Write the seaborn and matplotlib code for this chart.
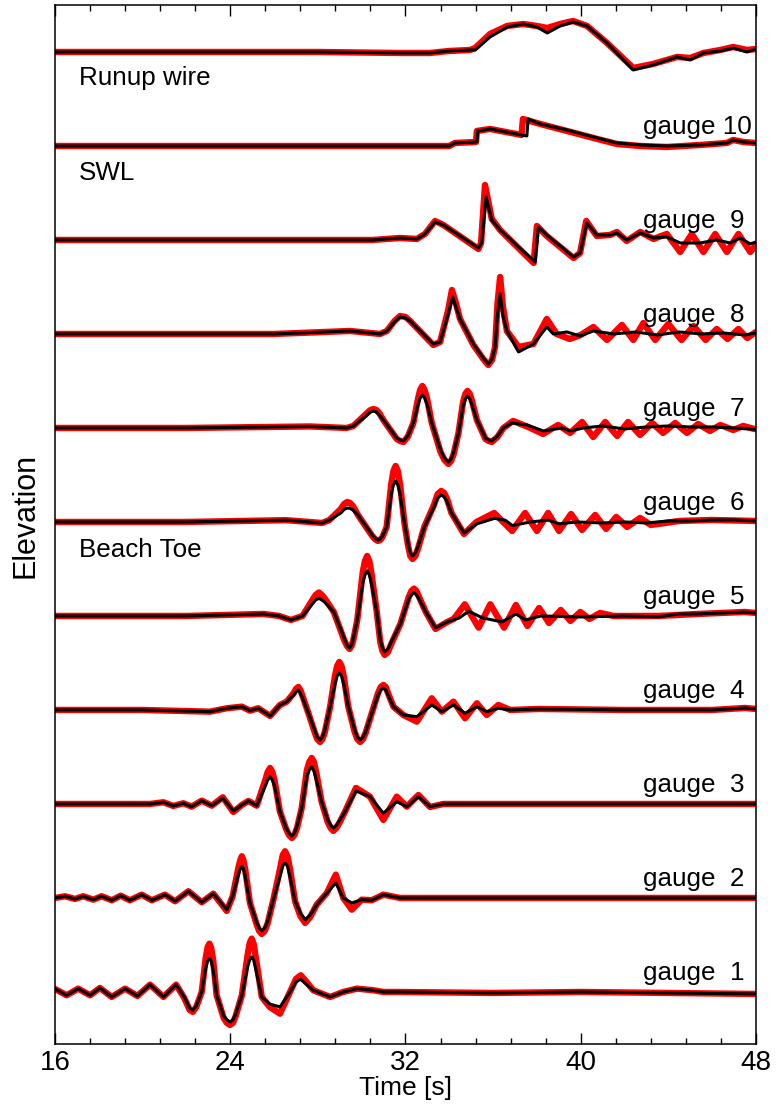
import matplotlib
matplotlib.use("Agg")
import matplotlib.pyplot as plt
import seaborn as sns
import pandas as pd
from matplotlib.ticker import MultipleLocator

# ---------------- data (elevation, arbitrary units) ----------------
# Runup wire
ru_t = [16, 22, 28, 31.75, 33.1, 34.0, 34.95, 35.18, 35.86, 36.64, 37.37, 38.0, 38.47, 39.06, 39.65,
        40.29, 41.2, 42.4, 43.3, 44.4, 45.0, 45.6, 46.37, 46.96, 47.6, 48.0]
ru_model = [0, 0, 0, -1, -1, 1, 2, 2, 15, 25, 28, 25, 19, 26, 30, 26, 9, -18, -13, -5, -8, -1, 1, 4, 0, 3]
ru_meas_t = ru_t
ru_meas = [0, 0, 0, -1, -1, 1, 2, 4, 18, 26, 28, 26, 24, 28, 31, 26, 9, -16, -12, -5, -6, -1, 2, 5, 2, 3]

# gauge 10
g10_t = [16, 25, 34.0, 34.26, 35.26, 35.3, 35.86, 37.54, 37.6, 38.15, 39.37, 40.58, 41.65, 42.71,
         43.93, 45.45, 46.67, 46.96, 47.42, 48.0]
g10_model = [0, 0, 0, 3, 4, 15, 17, 10, 27, 22, 16, 9, 3, 1, 0, 1, 3, 6, 4, 3]
g10_meas_t = [16, 25, 34.0, 34.26, 35.22, 35.26, 35.86, 37.3, 37.36, 38.15, 39.37, 40.58, 41.65, 42.71,
              43.93, 45.45, 46.67, 46.96, 47.42, 48.0]
g10_meas = [0, 0, 0, 3, 4, 15, 17, 11, 27, 22, 15, 8, 2, 0, -1, 1, 3, 6, 4, 3]

# gauge 9
g9_t = [16, 25, 30.5, 31.75, 32.52, 32.89, 33.35, 33.73, 35.33, 35.48, 35.68, 35.94, 36.32, 37.92, 38.07,
        38.45, 39.67, 39.97, 40.28, 40.73, 41.34, 41.65, 42.1, 42.72, 43.32, 43.93, 44.54, 45.45, 46.21,
        46.82, 47.28, 47.74, 48.0]
g9_model = [0, 0, 0, 2, 1, 6, 18, 15, -8, -3, 43, 20, 10, -22, 13, 5, -17, -13, 17, 5, 5, 7, 0, 7, 2, 3,
            -3, -3, 0, -3, 2, -4, -2]
g9_meas_t = [16, 25, 30.5, 31.75, 32.52, 32.89, 33.35, 33.73, 35.33, 35.45, 35.63, 35.94, 36.32, 37.85,
             38.0, 38.45, 39.67, 39.97, 40.25, 40.73, 41.34, 41.65, 42.1, 42.72, 43.32, 43.93, 44.54, 45.07,
             45.6, 46.14, 46.67, 47.2, 47.74, 48.0]
g9_meas = [0, 0, 0, 2, 1, 6, 19, 15, -9, -3, 55, 21, 10, -23, 14, 4, -18, -13, 19, 4, 5, 8, -1, 8, 1, 6,
           -12, 6, -12, 6, -12, 6, -12, -5]

# gauge 8
g8_t = [16, 22, 26, 29.47, 30.84, 31.15, 31.5, 31.75, 32.0, 32.21, 33.27, 33.58, 33.95, 34.16, 34.3, 34.49,
        35.1, 35.55, 35.78, 35.95, 36.09, 36.2, 36.32, 36.45, 36.63, 37.16, 37.84, 38.45, 38.75, 39.37,
        39.97, 40.58, 41.5, 42.5, 43.5, 44.5, 45.5, 46.5, 47.5, 48]
g8_model = [0, 0, 0, 3, 0, 3, 12, 17, 16, 13, -10, -8, 20, 37, 27, 15, -10, -24, -30, -25, -13, 20, 40, 18,
            3, -18, -10, 7, 0, 2, -2, 3, 0, 2, -1, 2, 0, 1, -1, 1]
g8_meas_t = [16, 22, 26, 29.47, 30.84, 31.15, 31.5, 31.75, 32.0, 32.21, 33.27, 33.58, 33.95, 34.12, 34.3,
             34.49, 35.1, 35.55, 35.78, 35.95, 36.09, 36.2, 36.32, 36.45, 36.63, 37.16, 37.84, 38.45, 38.9,
             39.5, 40.0, 40.58, 41.2, 41.88, 42.4, 42.86, 43.4, 44.0, 44.6, 45.15, 45.7, 46.21, 46.7, 47.2,
             47.6, 48]
g8_meas = [0, 0, 0, 3, 0, 3, 13, 18, 17, 13, -11, -8, 24, 44, 31, 15, -11, -25, -31, -26, -13, 30, 57, 27,
           3, -13, -10, 15, 0, -5, -1, 7, -6, 9, -6, 11, -6, 10, -6, 8, -6, 5, -5, 5, -4, 2]

# gauge 7
g7_t = [16, 22, 27.64, 29.32, 29.62, 30.2, 30.37, 30.53, 30.67, 30.8, 30.99, 31.6, 31.75, 31.9, 32.1, 32.36,
        32.58, 32.67, 32.77, 32.87, 32.98, 33.2, 33.6, 33.78, 33.96, 34.08, 34.2, 34.42, 34.63, 34.73, 34.83,
        34.94, 35.05, 35.26, 35.65, 35.8, 35.94, 36.2, 36.47, 36.85, 37.54, 38.3, 39.14, 39.52, 40.12, 41.0,
        42.0, 43.0, 44.0, 45.0, 46.0, 47.0, 48.0]
g7_model = [0, 0, 1.5, 0, 2, 12, 15.5, 17, 16, 13, 8, -10, -12, -13, -8, 5, 24, 30, 33, 30, 24, 5, -22, -30,
            -34, -31, -24, -5, 22, 29, 32, 29, 22, 8, -10, -12, -13, -8, 0, 5, 3, -3, 0, -3, 0, 2, -1, 1, 2,
            1, 1, 0, -1.5]
g7_meas_t = [16, 22, 27.64, 29.32, 29.62, 30.2, 30.37, 30.53, 30.67, 30.8, 30.99, 31.6, 31.75, 31.9, 32.1,
             32.36, 32.58, 32.67, 32.77, 32.87, 32.98, 33.2, 33.6, 33.78, 33.96, 34.08, 34.2, 34.42, 34.63,
             34.73, 34.83, 34.94, 35.05, 35.26, 35.65, 35.8, 35.94, 36.2, 36.47, 36.91, 37.6, 38.28, 38.97,
             39.52, 40.06, 40.57, 41.12, 41.66, 42.16, 42.71, 43.26, 43.76, 44.31, 44.85, 45.36, 45.9,
             46.37, 46.96, 47.42, 47.92, 48.0]
g7_meas = [0, 0, 1.5, 0, 2, 14, 17.5, 19, 18, 15, 8, -11, -13, -14, -9, 5, 30, 38, 42, 38, 30, 5, -24, -32,
           -36, -33, -26, -5, 26, 34, 37, 34, 26, 8, -11, -13, -14, -9, 0, 7, 1, -6, 3, -5, 6, -9, 6, -8, 6,
           -7, 5, -5, 5, -5, 4, -3, 3, -2, 2, -1, -1]

# gauge 6
g6_t = [16, 22, 26.55, 28.19, 28.52, 29.05, 29.2, 29.34, 29.47, 29.6, 29.83, 30.45, 30.6, 30.74, 30.85,
        30.95, 31.14, 31.35, 31.45, 31.55, 31.65, 31.75, 31.96, 32.12, 32.22, 32.32, 32.45, 32.58, 32.86,
        33.3, 33.47, 33.63, 33.77, 33.9, 34.1, 34.67, 35.24, 36.06, 36.55, 36.88, 37.7, 38.52, 39.01,
        39.83, 41, 42, 43, 44, 45, 46, 47, 48]
g6_model = [0, 0, 1.8, -1, 1.8, 9, 12.5, 14, 13.5, 12, 7, -12, -16, -18, -17, -14, -5, 28, 37, 41, 37, 28,
            -2, -22, -31, -34, -31, -24, -5, 15, 24, 27, 25, 20, 9, -11, -2, 3.6, 1.8, -3.6, 0, 1.8, -1.8,
            0, -1, 0, -1, 1, 1, 2, 2, 1]
g6_meas_t = [16, 22, 26.55, 28.19, 28.52, 29.05, 29.2, 29.34, 29.47, 29.6, 29.83, 30.45, 30.6, 30.74,
             30.85, 30.95, 31.14, 31.35, 31.45, 31.55, 31.65, 31.75, 31.96, 32.12, 32.22, 32.32, 32.45,
             32.58, 32.86, 33.3, 33.47, 33.63, 33.77, 33.9, 34.1, 34.67, 35.24, 36.05, 36.87, 37.46, 38.0,
             38.51, 39.01, 39.56, 40.06, 40.66, 41.16, 41.62, 42.12, 42.71, 43.2, 44.5, 46, 48]
g6_meas = [0, 0, 1.8, -1, 1.8, 13, 18, 20, 19, 16, 7, -13, -17, -19, -18, -15, -5, 38, 51, 56, 51, 38, -2,
           -24, -34, -37, -34, -26, -5, 17, 28, 31, 29, 23, 9, -12, 0, 9, -9, 9, -9, 9, -9, 8, -8, 7, -7,
           5, -5, 4, -3, 1, 2, 1]

# gauge 5
g5_t = [16, 22, 25.52, 26.23, 26.77, 27.3, 27.75, 27.9, 28.05, 28.18, 28.3, 28.73, 29.2, 29.33, 29.45,
        29.54, 29.62, 29.8, 30.05, 30.15, 30.25, 30.35, 30.45, 30.69, 30.85, 30.95, 31.05, 31.2, 31.35,
        31.77, 32.15, 32.27, 32.39, 32.5, 32.62, 32.93, 33.37, 33.91, 34.45, 34.89, 35.52, 36.41, 37.04,
        37.48, 38.19, 40, 42, 43.55, 44.5, 45.34, 46.5, 47.48, 48]
g5_model = [0, 0, 2, 0, -4, 0, 12, 16, 17.6, 16, 14, 3.9, -22, -29, -32, -29, -22, -4, 33, 41, 45, 41, 32,
            3.9, -24, -32, -36, -33, -26, -7.8, 17, 21, 23.5, 21, 17, 3.9, -11.7, -5.9, -2, 4.7, -2, -5.9,
            2, -3.9, 0, -1, 0, -0.8, 2, 2, 3, 3.9, 3]
g5_meas_t = [16, 22, 25.52, 26.23, 26.77, 27.3, 27.75, 27.9, 28.05, 28.18, 28.3, 28.73, 29.2, 29.33, 29.45,
             29.54, 29.62, 29.8, 30.05, 30.15, 30.25, 30.35, 30.45, 30.69, 30.85, 30.95, 31.05, 31.2,
             31.35, 31.77, 32.15, 32.27, 32.39, 32.5, 32.62, 32.93, 33.37, 33.91, 34.2, 34.71, 35.34,
             35.87, 36.5, 37.04, 37.57, 38.1, 38.55, 39.09, 39.53, 39.98, 40.4, 40.88, 41.5, 43.55, 45.34,
             47.48, 48]
g5_meas = [0, 0, 2, 0, -4, 0, 16, 21, 23.5, 21, 18, 3.9, -24, -30, -33, -30, -24, -4, 44, 55, 60, 55, 42,
           3.9, -26, -35, -39, -36, -28, -7.8, 19, 25, 27.4, 25, 19, 3.9, -13, -6, -3, 11.7, -11.7, 11.7,
           -11.7, 11, -10, 8, -7, 6, -5, 4, -3, 3, 0, 0, 2, 4, 3]

# gauge 4
g4_t = [16, 20, 23.08, 23.84, 24.53, 24.9, 25.28, 25.82, 26.27, 26.58, 26.9, 27.0, 27.11, 27.2, 27.3, 27.57,
        27.85, 27.97, 28.1, 28.21, 28.32, 28.56, 28.78, 28.88, 28.98, 29.08, 29.18, 29.39, 29.68, 29.8,
        29.93, 30.06, 30.18, 30.46, 30.75, 30.87, 30.99, 31.1, 31.2, 31.45, 31.9, 32.52, 33.2, 33.66,
        34.19, 34.72, 35.26, 35.71, 36.24, 36.78, 38.07, 42, 46, 47.5, 48]
g4_model = [0, 0, -1.7, 1.7, 3.3, -0.7, 1.7, -6, 5, 8.3, 15, 18, 20, 17, 12, -3.3, -20, -27, -30, -27, -20,
            3.3, 26, 34, 37, 34, 26, 3.3, -20, -27, -30, -27, -22, -3.3, 15, 20, 22, 20, 15, 3.3, -5, -6.7,
            5, -1.7, 5, -3.3, 3.3, -1.7, 1.7, 0, 1, 0, 0, 2, 1]
g4_meas_t = g4_t
g4_meas = [0, 0, -1.7, 1.7, 3.3, -0.7, 1.7, -6, 5, 8.3, 17, 21, 23, 20, 14, -3.3, -22, -29, -32, -29, -22,
           3.3, 34, 44, 48, 44, 34, 3.3, -22, -29, -32, -29, -23, -3.3, 17, 23, 25, 23, 17, 3.3, -5, -11.7,
           11.7, -1.7, 8.3, -8.3, 6.7, -5, 5, 0, 1, 0, 0, 2, 1]

# gauge 3
g3_t = [16, 18, 20.34, 20.95, 21.4, 21.86, 22.24, 22.7, 23.16, 23.66, 24.14, 24.53, 24.83, 25.21, 25.6,
        25.71, 25.82, 25.92, 26.02, 26.27, 26.55, 26.68, 26.81, 26.93, 27.05, 27.26, 27.5, 27.61, 27.72,
        27.82, 27.93, 28.17, 28.45, 28.58, 28.71, 28.85, 28.98, 29.24, 29.74, 30.38, 30.99, 31.6, 32.06,
        32.59, 33.12, 33.73, 38, 43, 48]
g3_model = [0, 0, 0, 1.7, -2, 0.7, -2.7, 3.3, -1.7, 5.7, -7, -1, 3, -1.7, 18, 24, 27, 24, 18, -7.7, -24,
            -29, -32, -29, -22, -4.3, 28, 34, 37, 33, 24, 2.3, -16, -21, -24, -21, -17, -7.7, 13, 7.3,
            -9.3, 2.3, -2.7, 7.3, -2.7, 0, 0, 0, 0]
g3_meas_t = g3_t
g3_meas = [0, 0, 0, 1.7, -2, 0.7, -2.7, 3.3, -1.7, 6.7, -8, -1, 3, -1.7, 24, 32, 36, 32, 24, -7.7, -25,
           -31, -34, -31, -24, -4.3, 34, 42, 46, 42, 31, 2.3, -18, -24, -27, -24, -19, -7.7, 16, 7.3, -16,
           7.3, -2.7, 9, -3, 0, 0, 0, 0]

# gauge 2
g2_t = [16, 16.46, 16.91, 17.29, 17.75, 18.13, 18.59, 19.0, 19.42, 19.96, 20.42, 21.02, 21.48, 22.09,
        22.7, 23.23, 23.84, 24.11, 24.38, 24.46, 24.53, 24.6, 24.68, 24.9, 25.2, 25.32, 25.44, 25.57, 25.7,
        25.97, 26.3, 26.4, 26.5, 26.61, 26.72, 26.96, 27.2, 27.42, 27.65, 27.95, 28.41, 28.82, 29.16,
        29.55, 30.0, 30.46, 30.99, 31.75, 36, 42, 48]
g2_model = [0, 1.7, -1, 1.7, -1.7, 1.7, -2.3, 2.3, -2.3, 3.3, -2.3, 3.3, -3.3, 6.7, -4.3, 4.3, -11.7, 1.7,
            24, 29, 31.7, 29, 22, -5, -24, -30, -33, -30, -24, -1.7, 24, 32, 35, 32, 22, -3.3, -15, -21.7,
            -17, -6.7, 5, 15, 0, -5, -1.7, -2.3, 3.3, 0, 0, 0, 0]
g2_meas_t = g2_t
g2_meas = [0, 1.7, -1, 1.7, -1.7, 1.7, -2.3, 2.3, -2.3, 3.3, -2.3, 3.3, -3.3, 6.7, -4.3, 4.3, -13, 1.7,
           31, 38, 41.7, 38, 29, -5, -26, -33, -36, -33, -26, -1.7, 32, 43, 46.7, 42, 30, -3.3, -18, -25,
           -19, -6.7, 5, 23.3, 0, -11.7, -1.7, -2.3, 3.3, 0, 0, 0, 0]

# gauge 1
g1_t = [16, 16.53, 17.06, 17.6, 18.05, 18.59, 19.2, 19.76, 20.34, 20.95, 21.53, 21.9, 22.15, 22.29, 22.45,
        22.7, 22.88, 22.97, 23.05, 23.13, 23.22, 23.38, 23.7, 23.85, 23.99, 24.12, 24.25, 24.53, 24.8,
        24.89, 24.98, 25.07, 25.17, 25.44, 25.8, 26.27, 26.73, 27.0, 27.22, 27.45, 27.79, 28.56, 29.16,
        29.78, 30.53, 30.99, 31.68, 36, 40, 44, 48]
g1_model = [3, -3.3, 3.3, -3.3, 4, -5, 3.3, -4, 7.3, -5, 7.3, -5, -16, -18.3, -14, 0, 24, 31, 33.3, 31, 22,
            -3.3, -24, -28, -30, -28, -22, -3.3, 26, 32, 35, 32, 22, -5, -12, -15, 0, 10, 12.7, 8, 1.7, -5,
            0, 3.3, 1.7, 0, 0, -1, 0, -1, -2]
g1_meas_t = g1_t
g1_meas = [3, -3.3, 3.3, -3.3, 4, -5, 3.3, -4, 7.3, -5, 7.3, -6, -18, -20, -15, 0, 34, 45, 48.3, 44, 32,
           -3.3, -26, -31, -33, -31, -24, -3.3, 38, 49, 53.3, 48, 34, -5, -15, -21.7, 0, 13, 16.7, 11, 1.7,
           -5, 0, 3.3, 1.7, 0, 0, -1, 0, -1, -2]

trace_names = ["gauge  1", "gauge  2", "gauge  3", "gauge  4", "gauge  5", "gauge  6",
               "gauge  7", "gauge  8", "gauge  9", "gauge 10", "Runup wire"]
model_t = [g1_t, g2_t, g3_t, g4_t, g5_t, g6_t, g7_t, g8_t, g9_t, g10_t, ru_t]
model_y = [g1_model, g2_model, g3_model, g4_model, g5_model, g6_model, g7_model, g8_model, g9_model,
           g10_model, ru_model]
meas_t = [g1_meas_t, g2_meas_t, g3_meas_t, g4_meas_t, g5_meas_t, g6_meas_t, g7_meas_t, g8_meas_t,
          g9_meas_t, g10_meas_t, ru_meas_t]
meas_y = [g1_meas, g2_meas, g3_meas, g4_meas, g5_meas, g6_meas, g7_meas, g8_meas, g9_meas, g10_meas,
          ru_meas]

# ---------------- layout ----------------
SPACING = 94  # vertical offset between stacked traces

rows = []
for i, name in enumerate(trace_names):
    off = i * SPACING
    for t, y in zip(meas_t[i], meas_y[i], strict=True):
        rows.append((name, "measured", t, y + off))
    for t, y in zip(model_t[i], model_y[i], strict=True):
        rows.append((name, "model", t, y + off))
df = pd.DataFrame(rows, columns=["trace", "source", "time", "elev"])

sns.set_style("ticks")
plt.rcParams["font.family"] = ["Liberation Sans", "DejaVu Sans"]
plt.rcParams["text.color"] = "black"
plt.rcParams["axes.labelcolor"] = "black"
plt.rcParams["xtick.color"] = "black"
plt.rcParams["xtick.labelcolor"] = "black"
FS_TXT, FS_TICK, FS_XLAB, FS_YLAB = 18.7, 20, 19, 22

fig = plt.figure(figsize=(7.8, 11.06), dpi=100)
ax = fig.add_axes([0.0705, 0.0561, 0.8987, 0.9394])

sns.lineplot(data=df[df.source == "measured"], x="time", y="elev", units="trace", estimator=None,
             sort=False, color="#ff0000", linewidth=4.6, ax=ax, legend=False,
             solid_joinstyle="round", solid_capstyle="round")
sns.lineplot(data=df[df.source == "model"], x="time", y="elev", units="trace", estimator=None,
             sort=False, color="black", linewidth=2.2, ax=ax, legend=False,
             solid_joinstyle="round", solid_capstyle="round")

ax.set_xlim(16, 48)
ax.set_ylim(-52, 987)
ax.set_xticks([16, 24, 32, 40, 48])
ax.xaxis.set_minor_locator(MultipleLocator(1.6))
ax.set_yticks([])
ax.tick_params(axis="x", which="both", direction="in", top=True, bottom=True, width=1.0,
               labelsize=FS_TICK, pad=4, colors="black")
ax.tick_params(axis="x", which="major", length=8)
ax.tick_params(axis="x", which="minor", length=4.3)
for s in ax.spines.values():
    s.set_linewidth(1.1)
    s.set_color("black")

ax.set_xlabel("Time [s]", fontsize=FS_XLAB, color="black")
ax.set_ylabel("Elevation", fontsize=FS_YLAB, color="black")
ax.xaxis.set_label_coords(0.5, -0.031)
ax.yaxis.set_label_coords(-0.021, 0.509)

for i, name in enumerate(trace_names[:-1]):
    ax.text(42.85, i * SPACING + 12, name, fontsize=FS_TXT, ha="left", va="baseline", color="black")
ax.text(17.1, 907, "Runup wire", fontsize=FS_TXT, ha="left", va="baseline", color="black")
ax.text(17.1, 812, "SWL", fontsize=FS_TXT, ha="left", va="baseline", color="black")
ax.text(17.1, 435, "Beach Toe", fontsize=FS_TXT, ha="left", va="baseline", color="black")

fig.savefig("out.png", dpi=100)
